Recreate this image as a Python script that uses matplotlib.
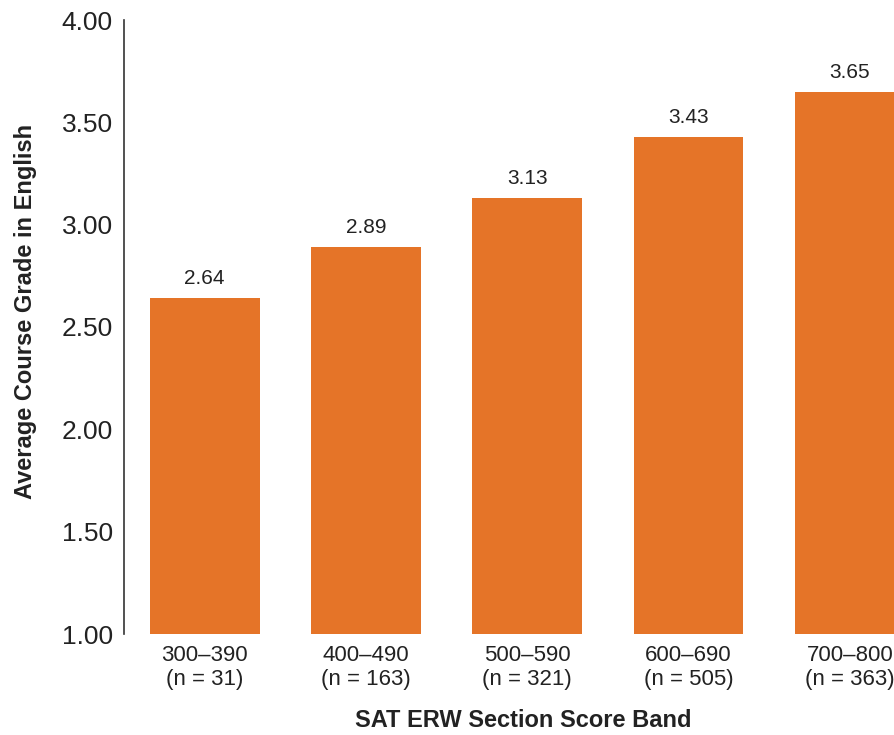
import matplotlib.pyplot as plt

plt.rcParams["font.family"] = ["Liberation Sans", "DejaVu Sans"]

bands = ["300–390", "400–490", "500–590", "600–690", "700–800"]
counts = [31, 163, 321, 505, 363]
grades = [2.64, 2.89, 3.13, 3.43, 3.65]
yticks = [1.00, 1.50, 2.00, 2.50, 3.00, 3.50, 4.00]

fig = plt.figure(figsize=(8.95, 7.35), dpi=100)
ax = fig.add_axes([124 / 895, 101 / 735, 806.6 / 895, 614 / 735])

x = list(range(len(bands)))
ax.bar(x, [g - 1.0 for g in grades], bottom=1.0, width=0.68, color="#E57428")

for xi, g in zip(x, grades):
    ax.annotate(f"{g:.2f}", (xi, g), xytext=(0, 10), textcoords="offset points",
                ha="center", va="baseline", fontsize=15, color="#222222")

ax.set_xlim(-0.5, 4.5)
ax.set_ylim(1.0, 4.0)
ax.set_yticks(yticks)
ax.set_yticklabels([f"{t:.2f}" for t in yticks], fontsize=19, color="#222222")
ax.set_xticks(x)
ax.set_xticklabels([f"{b}\n(n = {n})" for b, n in zip(bands, counts)],
                   fontsize=16, color="#222222", linespacing=1.15)
ax.tick_params(axis="both", length=0)
ax.tick_params(axis="y", pad=8)
ax.tick_params(axis="x", pad=8)

for side in ["top", "right", "bottom"]:
    ax.spines[side].set_visible(False)
ax.spines["left"].set_color("#333333")
ax.spines["left"].set_linewidth(1.2)

ax.set_ylabel("Average Course Grade in English", fontsize=17, fontweight="bold",
              color="#222222")
ax.yaxis.set_label_coords((37 - 124) / 806.6, (634 - 311) / 614)
ax.set_xlabel("SAT ERW Section Score Band", fontsize=17, fontweight="bold",
              color="#222222")
ax.xaxis.set_label_coords((523 - 124) / 806.6, (634 - 709) / 614)

fig.savefig("out.png", dpi=100)
